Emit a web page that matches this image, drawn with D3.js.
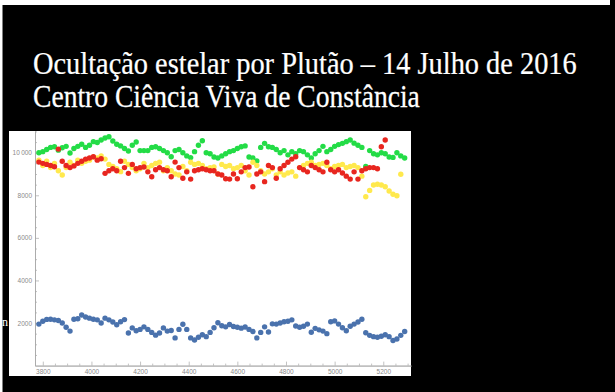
<!DOCTYPE html>
<html>
<head>
<meta charset="utf-8">
<script src="https://cdn.jsdelivr.net/npm/d3@7"></script>
<style>
  html, body { margin: 0; padding: 0; background: #000; }
  svg { display: block; }
</style>
</head>
<body>
<svg id="chart" width="615" height="392"></svg>
<script>
// Frame numbers (x) shared by every light curve
const frames = [
  3784,3800,3816,3832,3848,3864,3880,3896,3912,3928,
  3944,3960,3976,3992,4008,4024,4040,4056,4072,4088,
  4104,4120,4136,4152,4168,4184,4200,4216,4232,4248,
  4264,4280,4296,4312,4328,4344,4360,4376,4392,4408,
  4424,4440,4456,4472,4488,4504,4520,4536,4552,4568,
  4584,4600,4616,4632,4648,4664,4680,4696,4712,4728,
  4744,4760,4776,4792,4808,4824,4840,4856,4872,4888,
  4904,4920,4936,4952,4968,4984,5000,5016,5032,5048,
  5064,5080,5096,5112,5128,5144,5160,5176,5192,5208,
  5224,5240,5256,5272,5288
];

// Comparison star (green)
const greenFlux = [
  10000,10050,10150,10250,10280,10120,10230,10300,9990,10200,
  10300,10400,10250,10350,10520,10480,10600,10690,10750,10550,
  10400,10320,10200,10080,10350,10500,10100,10100,10100,10250,
  10280,10200,10100,10000,9810,10100,10150,10000,9850,9770,
  10050,10350,10560,10000,9950,9800,9750,9850,9950,10050,
  10100,10200,10280,10320,9800,9750,9610,10250,10440,10280,
  10250,10150,10000,10100,9900,10050,9950,10100,10050,9900,
  9750,9950,10100,10300,10050,10150,10300,10380,10440,10520,
  10600,10450,10350,10250,9350,10100,9950,9900,10000,9950,
  9800,9780,10000,9850,9750
];

// Comparison star (red)
const redFlux = [
  9560,9500,9450,9400,9340,10170,9600,9400,9300,9380,
  9500,9600,9700,9750,9810,9650,9720,9030,9150,9250,
  9150,9600,9300,9030,9450,9250,9300,9330,9100,8870,
  9200,9300,9200,9150,8870,9560,9300,8800,9100,8760,
  9150,9200,9250,9200,9150,9150,9000,8950,8780,8760,
  9000,8780,9100,9300,9330,8400,9000,9100,8640,9400,
  9300,8800,9250,9400,9550,9700,9810,9300,9200,9100,
  9400,9300,9200,9100,9550,9200,9100,9200,9050,8900,
  8760,9100,8760,9150,9250,9300,9300,9250,10280,10600,
  null,null,null,null,null
];

// Comparison star (yellow)
const yellowFlux = [
  9650,9400,9600,9300,9500,9150,8950,9300,9550,9400,
  9650,9500,9600,9650,9800,9750,9850,9700,9450,9350,
  9250,9110,9600,9450,9300,9150,9250,9500,9300,9400,
  9500,9550,9150,9300,9150,9000,8950,9350,9150,9550,
  9450,9500,9400,9250,9300,9330,9000,9450,9350,9400,
  9250,9300,9400,9150,8950,9550,9400,9150,9000,9100,
  9250,8950,9100,8950,9050,9100,8900,9300,9400,9500,
  9550,9400,9450,9500,9400,9250,9350,9400,9450,9300,
  9350,9400,9300,8900,7930,8230,8480,8520,8480,8400,
  8200,8050,7980,8990,null
];

// Target star, Pluto + occulted star (blue)
const blueFlux = [
  1950,2080,2170,2180,2150,2120,2000,1800,1620,2180,
  2200,2380,2280,2230,2180,2150,2000,2230,2150,2050,
  1920,2060,2160,1530,1770,1640,1700,1820,1700,1560,
  1430,1530,1770,1620,1650,1300,1700,1940,1700,1300,
  1200,1330,1450,1360,1560,1780,2010,1870,1820,1930,
  1840,1800,1760,1810,1700,1600,1300,1560,1820,1580,
  1960,1950,2000,2060,2080,2150,1860,1800,1850,1950,
  1570,1750,1680,1620,1500,2060,2100,1950,1780,1640,
  1850,1950,2050,2180,1540,1420,1360,1330,1380,1450,
  1360,1180,1250,1420,1600
];

const xMajorTicks = [3800,4000,4200,4400,4600,4800,5000,5200];
const yMajorTicks = [2000,4000,6000,8000,10000];
const yTickLabels = ["2000","4000","6000","8000","10\u2009000"];

const titleLines = [
  "Ocultação estelar por Plutão – 14 Julho de 2016",
  "Centro Ciência Viva de Constância"
];

const svg = d3.select("#chart");

// slide background with its thin light border
svg.append("rect").attr("x",0).attr("y",0).attr("width",615).attr("height",392).attr("fill","#000");
svg.append("rect").attr("x",0).attr("y",0).attr("width",610).attr("height",5).attr("fill","#fff");
svg.append("rect").attr("x",0).attr("y",0).attr("width",2.5).attr("height",392).attr("fill","#fff");

// title, two lines, condensed to the slide width
const title = svg.append("g");
const baseSize = 32;
const targetW = [544, 387];
const baselines = [74, 107];
titleLines.forEach((t, i) => {
  const txt = title.append("text")
    .attr("x", 0).attr("y", 0)
    .attr("font-family", "'Liberation Serif', 'Times New Roman', serif")
    .attr("font-size", baseSize)
    .attr("fill", "#fff")
    .attr("stroke", "#fff")
    .attr("stroke-width", 0.25)
    .text(t);
  const w = txt.node().getComputedTextLength();
  const sx = targetW[i] / w;
  txt.attr("transform", `translate(33,${baselines[i]}) scale(${sx},1)`);
});

// a stray glyph of slide text peeking out at the left of the plot
svg.append("text").attr("x", 2).attr("y", 326)
  .attr("font-family", "'Liberation Serif', serif").attr("font-size", 12)
  .attr("fill", "#fff").text("n");

// plot panel
svg.append("rect").attr("x", 9).attr("y", 131).attr("width", 402).attr("height", 245).attr("fill", "#fff");

const x = d3.scaleLinear().domain([3768, 5314]).range([35, 411]);
const y = d3.scaleLinear().domain([0, 11020]).range([365.6, 131]);

const axisColor = "#a8a8a8";
const labelColor = "#8a8a8a";

function styleAxis(g) {
  g.selectAll("path.domain").attr("stroke", axisColor).attr("stroke-width", 0.8);
  g.selectAll(".tick line").attr("stroke", axisColor).attr("stroke-width", 0.7);
  g.selectAll(".tick text").attr("fill", labelColor)
    .attr("font-family", "'Liberation Sans', Arial, sans-serif").attr("font-size", 6.5);
}

// minor ticks
const xMinor = d3.range(3800, 5301, 50).filter(v => v % 200 !== 0);
const yMinor = d3.range(500, 11001, 500).filter(v => v % 2000 !== 0);

svg.append("g").attr("transform", `translate(0,${y(0)})`)
  .call(d3.axisBottom(x).tickValues(xMinor).tickSize(-2).tickSizeOuter(0).tickFormat(""))
  .call(styleAxis);
svg.append("g").attr("transform", `translate(${x(3768)},0)`)
  .call(d3.axisLeft(y).tickValues(yMinor).tickSize(-2).tickSizeOuter(0).tickFormat(""))
  .call(styleAxis);

// major ticks with labels
svg.append("g").attr("transform", `translate(0,${y(0)})`)
  .call(d3.axisBottom(x).tickValues(xMajorTicks).tickSize(-4).tickSizeOuter(0).tickPadding(4).tickFormat(d => String(d)))
  .call(styleAxis);
svg.append("g").attr("transform", `translate(${x(3768)},0)`)
  .call(d3.axisLeft(y).tickValues(yMajorTicks).tickSize(-4).tickSizeOuter(0).tickPadding(3)
    .tickFormat((d, i) => yTickLabels[i]))
  .call(styleAxis);

// light curves
const series = [
  { values: blueFlux,   color: "#4a72ad" },
  { values: greenFlux,  color: "#23dc46" },
  { values: yellowFlux, color: "#ffe94d" },
  { values: redFlux,    color: "#e8261f" }
];

series.forEach(s => {
  const pts = frames.map((f, i) => ({ f, v: s.values[i] })).filter(d => d.v != null);
  svg.append("g").selectAll("circle").data(pts).join("circle")
    .attr("cx", d => x(d.f))
    .attr("cy", d => y(d.v))
    .attr("r", 2.7)
    .attr("fill", s.color);
});
</script>
</body>
</html>
